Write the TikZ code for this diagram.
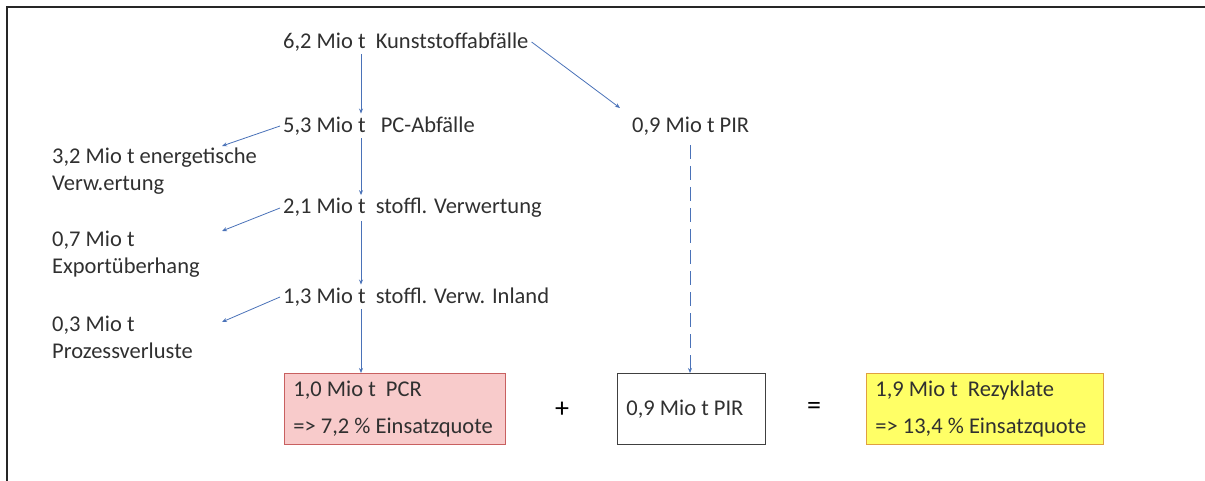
\documentclass[tikz,border=0pt]{standalone}
\usepackage{fontspec}
\setmainfont{Carlito}
\usetikzlibrary{arrows.meta}
\definecolor{arrblue}{HTML}{4A72B8}
\definecolor{pinkfill}{HTML}{F8CBCB}
\definecolor{pinkline}{HTML}{C86060}
\definecolor{yelfill}{HTML}{FFFF66}
\definecolor{yelline}{HTML}{E0A040}
\definecolor{txt}{HTML}{303030}
\tikzset{
  lbl/.style={anchor=west, inner sep=3pt, font=\fontsize{22.5}{27}\selectfont, text=txt},
  arr/.style={draw=arrblue, line width=0.8pt, -{Stealth[length=5pt,width=4pt]}},
  dsh/.style={arr, dash pattern=on 14pt off 7pt},
  box/.style={anchor=north west, minimum height=71pt, align=flush left, inner xsep=9pt,
     font=\fontsize{22.5}{27}\selectfont, text=txt, line width=0.8pt},
  sym/.style={font=\fontsize{28}{30}\selectfont, text=black}
}
\begin{document}
\begin{tikzpicture}[x=1pt,y=-1pt]
\useasboundingbox (0,0) rectangle (1205,481);
\draw[line width=2pt, black!85] (7,481) -- (7,7) -- (1205,7);
\coordinate (v) at (361,0);
\node[lbl] (k) at (280,42) {6,2 Mio t\ \ Kunststoffabfälle};
\node[lbl] (pc) at (280,126) {5,3 Mio t\ \ \ PC-Abfälle};
\node[lbl] (pir) at (629,126) {0,9 Mio t PIR};
\node[lbl, align=flush left] (en) at (49,171) {3,2 Mio t energetische\\Verw.ertung};
\node[lbl] (st) at (280,208) {2,1 Mio t\ \ stoffl. Verwertung};
\node[lbl, align=flush left] (ex) at (49,254) {0,7 Mio t\\Exportüberhang};
\node[lbl] (in) at (280,297) {1,3 Mio t\ \ stoffl. Verw. Inland};
\node[lbl, align=flush left] (pv) at (49,337) {0,3 Mio t\\Prozessverluste};
\node[box, draw=pinkline, fill=pinkfill, minimum width=221pt, text width=203pt] (pcr) at (284,373)
  {\mbox{1,0 Mio t\ \ PCR}\\[10pt]\mbox{=> 7,2 \% Einsatzquote}};
\node[box, draw=black!75, fill=white, minimum width=148pt, text width=130pt] (pirb) at (617,373)
  {\mbox{0,9 Mio t PIR}};
\node[box, draw=yelline, fill=yelfill, minimum width=237pt, text width=219pt] (rez) at (866,373)
  {\mbox{1,9 Mio t\ \ Rezyklate}\\[10pt]\mbox{=> 13,4 \% Einsatzquote}};
\node[sym] (plus) at (562,410) {+};
\node[sym] (eq) at (814,408) {=};
\coordinate (e1) at (222,146);
\coordinate (e2) at (222,231);
\coordinate (e3) at (222,322);
\coordinate (p1) at (620,108);
\coordinate (d) at (690,145);
\draw[arr] (k.south -| v) -- (pc.north -| v);
\draw[arr] (pc.south -| v) -- (st.north -| v);
\draw[arr] (st.south -| v) -- (in.north -| v);
\draw[arr] (in.south -| v) -- (pcr.north -| v);
\draw[arr] (pc.west) -- (e1);
\draw[arr] (st.west) -- (e2);
\draw[arr] (in.west) -- (e3);
\draw[arr] (k.east) -- (p1);
\draw[dsh] (d) -- (pirb.north -| d);
\end{tikzpicture}
\end{document}
